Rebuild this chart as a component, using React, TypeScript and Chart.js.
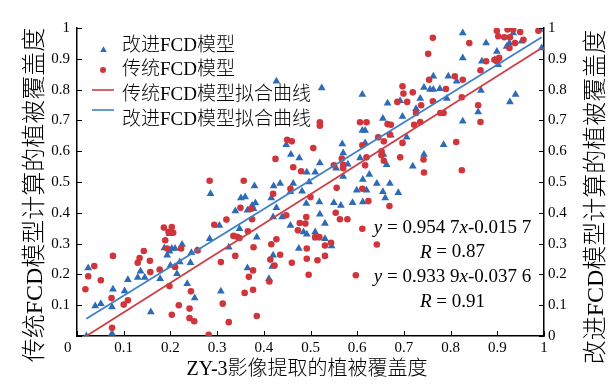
import React, { useEffect, useRef } from 'react';
import { Chart, registerables } from 'chart.js';

Chart.register(...registerables);

// 改进FCD模型 (blue triangles)
const improvedX = [
  0.02, 0.024, 0.039, 0.051, 0.077, 0.075, 0.075, 0.102, 0.109, 0.13, 0.136, 0.145, 0.158, 0.178, 0.187, 0.193,
  0.198, 0.203, 0.198, 0.21, 0.225, 0.214, 0.2, 0.22, 0.236, 0.243, 0.245, 0.252, 0.257, 0.284, 0.286, 0.305,
  0.308, 0.325, 0.339, 0.348, 0.351, 0.36, 0.365, 0.375, 0.378, 0.38, 0.382, 0.385, 0.365, 0.411, 0.416, 0.42,
  0.421, 0.427, 0.435, 0.418, 0.42, 0.439, 0.457, 0.463, 0.457, 0.475, 0.485, 0.492, 0.491, 0.482, 0.497,
  0.427, 0.448, 0.458, 0.476, 0.492,
  0.524, 0.611, 0.826, 0.826, 0.876, 0.899, 0.895, 0.92, 0.926, 0.934, 0.952, 0.991, 0.995, 0.867, 0.902, 0.763,
  0.795, 0.813, 0.743, 0.756, 0.763, 0.777, 0.865, 0.939, 0.927, 0.735, 0.792, 0.665, 0.692, 0.726, 0.697, 0.655,
  0.859, 0.826, 0.611, 0.617, 0.672, 0.706, 0.785, 0.568, 0.57, 0.617, 0.656, 0.52, 0.58, 0.606, 0.663, 0.719,
  0.743, 0.555, 0.51, 0.57, 0.626, 0.612,
  0.642, 0.67, 0.599, 0.62, 0.655, 0.688, 0.66, 0.519, 0.55, 0.565, 0.59, 0.612, 0.52, 0.531, 0.51, 0.531, 0.545, 0.512,
];
const improvedY = [
  0.0, 0.221, 0.097, 0.105, 0.152, 0.094, 0.008, 0.146, 0.183, 0.19, 0.21, 0.19, 0.078, 0.186, 0.286, 0.262,
  0.275, 0.284, 0.332, 0.284, 0.297, 0.202, 0.229, 0.24, 0.17, 0.238, 0.27, 0.123, 0.278, 0.316, 0.462, 0.359,
  0.145, 0.288, 0.406, 0.348, 0.448, 0.451, 0.408, 0.424, 0.413, 0.487, 0.432, 0.321, 0.221, 0.186, 0.448, 0.386,
  0.487, 0.416, 0.495, 0.226, 0.262, 0.386, 0.468, 0.495, 0.359, 0.284, 0.338, 0.33, 0.43, 0.47, 0.5,
  0.827, 0.621, 0.589, 0.578, 0.532,
  0.805, 0.784, 0.984, 0.903, 0.951, 0.924, 0.897, 0.94, 0.951, 0.984, 0.957, 0.995, 0.935, 0.892, 0.881, 0.843,
  0.843, 0.827, 0.807, 0.8, 0.8, 0.803, 0.797, 0.784, 0.76, 0.771, 0.771, 0.756, 0.764, 0.738, 0.713, 0.706,
  0.727, 0.697, 0.667, 0.667, 0.652, 0.645, 0.621, 0.623, 0.594, 0.627, 0.589, 0.562, 0.558, 0.578, 0.556, 0.551,
  0.589, 0.545, 0.532, 0.518, 0.524, 0.508,
  0.495, 0.495, 0.473, 0.473, 0.468, 0.465, 0.448, 0.435, 0.433, 0.424, 0.433, 0.435, 0.395, 0.365, 0.338, 0.316, 0.292, 0.318,
];

// 传统FCD模型 (red circles)
const traditionalX = [
  0.018, 0.024, 0.037, 0.051, 0.074, 0.077, 0.075, 0.1, 0.109, 0.13, 0.134, 0.143, 0.156, 0.157, 0.177, 0.186,
  0.189, 0.193, 0.196, 0.203, 0.206, 0.198, 0.203, 0.21, 0.218, 0.223, 0.241, 0.244, 0.241, 0.251, 0.258, 0.282,
  0.294, 0.308, 0.312, 0.32, 0.325, 0.335, 0.339, 0.343, 0.348, 0.35, 0.359, 0.366, 0.368, 0.373, 0.375, 0.377,
  0.378, 0.377, 0.385, 0.412, 0.414, 0.416, 0.42, 0.423, 0.427, 0.435, 0.448, 0.457, 0.46, 0.473, 0.477, 0.489,
  0.491, 0.492, 0.496, 0.492, 0.5,
  0.45, 0.46, 0.425, 0.463, 0.48, 0.284, 0.357,
  0.762, 0.752, 0.84, 0.899, 0.922, 0.934, 0.949, 0.988, 0.902, 0.915, 0.927, 0.938, 0.956, 0.876, 0.894, 0.904,
  0.926, 0.899, 0.864, 0.809, 0.826, 0.754, 0.79, 0.697, 0.699, 0.719, 0.824, 0.762, 0.686, 0.707, 0.737, 0.859,
  0.778, 0.785, 0.726, 0.864, 0.52, 0.52, 0.606, 0.62, 0.665, 0.672, 0.722, 0.735, 0.645, 0.67, 0.657, 0.697,
  0.812, 0.611, 0.506, 0.62, 0.652, 0.652, 0.692, 0.742, 0.567, 0.57, 0.657, 0.617, 0.55, 0.57, 0.743, 0.824,
  0.556, 0.611, 0.624, 0.669, 0.554, 0.563, 0.579, 0.611, 0.51, 0.519, 0.544, 0.531, 0.515, 0.531, 0.642, 0.597,
];
const traditionalY = [
  0.152, 0.194, 0.227, 0.181, 0.123, 0.26, 0.027, 0.102, 0.116, 0.238, 0.253, 0.276, 0.244, 0.208, 0.216, 0.352,
  0.311, 0.284, 0.338, 0.354, 0.335, 0.162, 0.069, 0.224, 0.1, 0.284, 0.089, 0.145, 0.058, 0.048, 0.278, 0.004,
  0.361, 0.24, 0.105, 0.378, 0.045, 0.325, 0.26, 0.322, 0.318, 0.416, 0.14, 0.34, 0.192, 0.413, 0.379, 0.213,
  0.288, 0.15, 0.065, 0.177, 0.248, 0.298, 0.462, 0.229, 0.314, 0.264, 0.392, 0.478, 0.238, 0.343, 0.367, 0.365,
  0.386, 0.251, 0.199, 0.284, 0.451,
  0.637, 0.632, 0.575, 0.548, 0.535, 0.504, 0.504,
  0.968, 0.916, 0.951, 0.991, 0.995, 0.995, 0.987, 0.991, 0.973, 0.97, 0.97, 0.951, 0.962, 0.892, 0.897, 0.903,
  0.935, 0.892, 0.863, 0.843, 0.832, 0.832, 0.802, 0.811, 0.787, 0.791, 0.775, 0.762, 0.76, 0.76, 0.749, 0.749,
  0.724, 0.724, 0.724, 0.695, 0.694, 0.683, 0.694, 0.694, 0.688, 0.686, 0.686, 0.695, 0.645, 0.654, 0.632, 0.627,
  0.63, 0.619, 0.61, 0.58, 0.6, 0.587, 0.58, 0.573, 0.576, 0.556, 0.569, 0.554, 0.554, 0.545, 0.531, 0.538,
  0.481, 0.478, 0.438, 0.422, 0.4, 0.379, 0.379, 0.348, 0.321, 0.321, 0.303, 0.294, 0.246, 0.26, 0.297, 0.197,
];

// fitted lines (endpoints)
const fitX = [0.02, 0.995];
const traditionalFitY = [0.0, 0.935];
const improvedFitY = [0.056, 0.97];

const xTickLabels = ['0     ', '0.1', '0.2', '0.3', '0.4', '0.5', '0.6', '0.7', '0.8', '0.9', '1'];
const leftTickLabels = ['', '0.1', '0.2', '0.3', '0.4', '0.5', '0.6', '0.7', '0.8', '0.9', '1'];
const rightTickLabels = ['0', '0.1', '0.2', '0.3', '0.4', '0.5', '0.6', '0.7', '0.8', '0.9', '1'];

const legendLabels = ['改进FCD模型', '传统FCD模型', '传统FCD模型拟合曲线', '改进FCD模型拟合曲线'];
const xTitle = 'ZY-3影像提取的植被覆盖度';
const leftTitle = '传统FCD模型计算的植被覆盖度';
const rightTitle = '改进FCD模型计算的植被覆盖度';
const equations = [
  [['y', true], [' = 0.954 7', false], ['x', true], ['-0.015 7', false]],
  [['R', true], [' = 0.87', false]],
  [['y', true], [' = 0.933 9', false], ['x', true], ['-0.037 6', false]],
  [['R', true], [' = 0.91', false]],
] as [string, boolean][][];

const BLUE = '#2c6cb6';
const RED = '#d0353c';
const BLUE_LINE = '#4080c6';
const RED_LINE = '#cd3f46';
const FAMILY = "'Liberation Serif', 'Noto Sans CJK SC', serif";

const toPts = (xs: number[], ys: number[]) => xs.map((x, i) => ({ x, y: ys[i] }));

const overlayPlugin = {
  id: 'overlay',
  afterDraw(chart: any) {
    const ctx = chart.ctx as CanvasRenderingContext2D;
    const { x, y, y2 } = chart.scales;
    const area = chart.chartArea;
    ctx.save();
    // inward tick marks
    ctx.strokeStyle = '#000';
    ctx.lineWidth = 1;
    ctx.beginPath();
    x.ticks.forEach((t: any) => {
      const px = Math.round(x.getPixelForValue(t.value)) + 0.5;
      ctx.moveTo(px, area.bottom);
      ctx.lineTo(px, area.bottom - 5);
    });
    y.ticks.forEach((t: any) => {
      const py = Math.round(y.getPixelForValue(t.value)) + 0.5;
      ctx.moveTo(area.left, py);
      ctx.lineTo(area.left + 5, py);
    });
    y2.ticks.forEach((t: any) => {
      const py = Math.round(y2.getPixelForValue(t.value)) + 0.5;
      ctx.moveTo(area.right, py);
      ctx.lineTo(area.right - 5, py);
    });
    ctx.stroke();

    ctx.fillStyle = '#000';
    // axis titles
    ctx.textAlign = 'center';
    ctx.textBaseline = 'middle';
    ctx.font = `300 20px ${FAMILY}`;
    ctx.fillText(xTitle, 307, 370);
    ctx.font = `300 24px ${FAMILY}`;
    ctx.save();
    ctx.translate(36, 195);
    ctx.rotate(-Math.PI / 2);
    ctx.fillText(leftTitle, 0, 0);
    ctx.restore();
    ctx.save();
    ctx.translate(597, 197);
    ctx.rotate(-Math.PI / 2);
    ctx.fillText(rightTitle, 0, 0);
    ctx.restore();

    // legend
    ctx.textAlign = 'left';
    ctx.font = `300 19px ${FAMILY}`;
    const rows = [46.5, 70.5, 95.5, 120];
    legendLabels.forEach((lbl, i) => ctx.fillText(lbl, 122, rows[i]));
    ctx.fillStyle = BLUE;
    ctx.beginPath();
    const tr = 3.8, tx = 103.5, ty = 50;
    ctx.moveTo(tx, ty - tr);
    ctx.lineTo(tx + tr * 0.866, ty + tr * 0.5);
    ctx.lineTo(tx - tr * 0.866, ty + tr * 0.5);
    ctx.closePath();
    ctx.fill();
    ctx.fillStyle = RED;
    ctx.beginPath();
    ctx.arc(103, 70, 3, 0, Math.PI * 2);
    ctx.fill();
    ctx.lineWidth = 1.6;
    ctx.strokeStyle = RED_LINE;
    ctx.beginPath();
    ctx.moveTo(92, 90);
    ctx.lineTo(114, 90);
    ctx.stroke();
    ctx.strokeStyle = BLUE_LINE;
    ctx.beginPath();
    ctx.moveTo(92, 110);
    ctx.lineTo(114, 110);
    ctx.stroke();

    // equations
    ctx.fillStyle = '#000';
    const eqY = [228, 252.5, 277, 302];
    equations.forEach((segs, i) => {
      let total = 0;
      const widths = segs.map(([t, it]) => {
        ctx.font = `${it ? 'italic ' : ''}19px ${FAMILY}`;
        const w = ctx.measureText(t).width;
        total += w;
        return w;
      });
      let cx = 452.5 - total / 2;
      segs.forEach(([t, it], j) => {
        ctx.font = `${it ? 'italic ' : ''}19px ${FAMILY}`;
        ctx.fillText(t, cx, eqY[i]);
        cx += widths[j];
      });
    });
    ctx.restore();
  },
};

export default function App() {
  const ref = useRef<HTMLCanvasElement | null>(null);
  useEffect(() => {
    document.body.style.margin = '0';
    const canvas = ref.current;
    if (!canvas) return;
    const tickFont = { family: FAMILY, size: 15 };
    const chart = new Chart(canvas, {
      type: 'scatter',
      data: {
        datasets: [
          {
            label: '改进FCD模型拟合曲线',
            data: toPts(fitX, improvedFitY),
            showLine: true,
            borderColor: BLUE_LINE,
            borderWidth: 1.8,
            pointRadius: 0,
            yAxisID: 'y2',
            order: 0,
          },
          {
            label: '传统FCD模型拟合曲线',
            data: toPts(fitX, traditionalFitY),
            showLine: true,
            borderColor: RED_LINE,
            borderWidth: 1.8,
            pointRadius: 0,
            yAxisID: 'y',
            order: 1,
          },
          {
            label: '传统FCD模型',
            data: toPts(traditionalX, traditionalY),
            pointStyle: 'circle',
            pointRadius: 3.3,
            backgroundColor: RED,
            borderColor: RED,
            borderWidth: 0,
            yAxisID: 'y',
            order: 2,
          },
          {
            label: '改进FCD模型',
            data: toPts(improvedX, improvedY),
            pointStyle: 'triangle',
            pointRadius: 4.5,
            backgroundColor: BLUE,
            borderColor: BLUE,
            borderWidth: 0,
            yAxisID: 'y2',
            order: 3,
          },
        ],
      },
      options: {
        responsive: false,
        animation: false,
        devicePixelRatio: 1,
        layout: { padding: { top: 28, left: 0, right: 0, bottom: 0 } },
        plugins: { legend: { display: false }, tooltip: { enabled: false } },
        scales: {
          x: {
            type: 'linear',
            position: 'bottom',
            min: 0,
            max: 1,
            grid: { display: false, drawTicks: false },
            border: { display: true, color: '#000', width: 1.5 },
            ticks: {
              stepSize: 0.1,
              autoSkip: false,
              maxRotation: 0,
              padding: 3,
              color: '#000',
              font: tickFont,
              callback: (_v: any, i: number) => xTickLabels[i],
            },
            afterFit: (s: any) => { s.height = 51; },
          },
          y: {
            type: 'linear',
            position: 'left',
            min: 0,
            max: 1,
            grid: { display: false, drawTicks: false },
            border: { display: true, color: '#000', width: 1.5 },
            ticks: {
              stepSize: 0.1,
              autoSkip: false,
              padding: 7,
              color: '#000',
              font: tickFont,
              callback: (_v: any, i: number) => leftTickLabels[i],
            },
            afterFit: (s: any) => { s.width = 77; },
          },
          y2: {
            type: 'linear',
            position: 'right',
            min: 0,
            max: 1,
            grid: { display: false, drawTicks: false },
            border: { display: true, color: '#000', width: 1.5 },
            ticks: {
              stepSize: 0.1,
              autoSkip: false,
              padding: 4,
              color: '#000',
              font: tickFont,
              callback: (_v: any, i: number) => rightTickLabels[i],
            },
            afterFit: (s: any) => { s.width = 70; },
          },
        },
      },
      plugins: [overlayPlugin],
    } as any);
    return () => chart.destroy();
  }, []);
  return (
    <div style={{ width: 614, height: 387, background: '#fff' }}>
      <canvas ref={ref} width={614} height={387} style={{ display: 'block' }} />
    </div>
  );
}
